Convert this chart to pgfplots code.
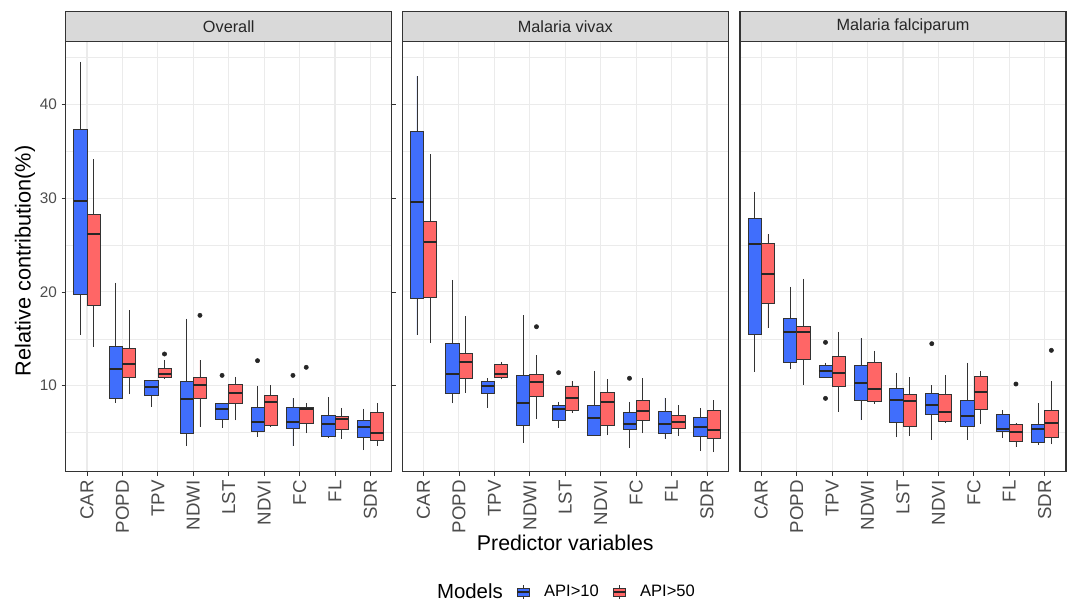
\documentclass[border=0pt]{standalone}
\usepackage{fontspec}
\setmainfont{Liberation Sans}
\usepackage{pgfplots}
\usepackage{pgfplotstable}
\pgfplotsset{compat=1.18}
\usepgfplotslibrary{statistics}

\definecolor{cblue}{RGB}{64,110,252}
\definecolor{cred}{RGB}{255,102,102}
\definecolor{gridc}{HTML}{EBEBEB}
\definecolor{stripc}{HTML}{D9D9D9}
\definecolor{framec}{HTML}{333333}

% overall, API>10
\pgfplotstableread{
var lw lq med uq uw
CAR 15.44 19.78 29.69 37.33 44.54
POPD 8.19 8.61 11.74 14.23 20.98
TPV 7.77 8.98 9.90 10.57 10.57
NDWI 3.57 4.88 8.62 10.46 17.14
LST 5.53 6.38 7.55 8.08 8.08
NDVI 4.55 5.12 6.12 7.65 9.96
FC 3.57 5.45 6.12 7.65 8.65
FL 4.38 4.56 5.88 6.87 8.76
SDR 3.14 4.53 5.60 6.34 7.55
}\ovA
% overall, API>50
\pgfplotstableread{
var lw lq med uq uw
CAR 14.16 18.53 26.20 28.22 34.13
POPD 9.08 10.86 12.32 13.95 18.07
TPV 10.71 10.86 11.21 11.89 12.74
NDWI 5.63 8.62 10.11 10.89 12.74
LST 6.30 8.15 9.22 10.15 10.96
NDVI 5.56 5.74 8.30 9.00 10.04
FC 4.91 5.98 7.51 7.69 8.12
FL 4.31 5.38 6.45 6.70 7.65
SDR 3.57 4.21 4.92 7.12 8.15
}\ovB
% vivax, API>10
\pgfplotstableread{
var lw lq med uq uw
CAR 15.41 19.31 29.59 37.09 43.00
POPD 8.12 9.19 11.25 14.48 21.27
TPV 7.65 9.19 9.97 10.43 10.79
NDWI 3.93 5.74 8.19 11.10 17.50
LST 5.53 6.34 7.51 7.90 8.30
NDVI 4.74 4.74 6.52 7.87 11.60
FC 3.35 5.34 5.95 7.12 8.30
FL 4.35 4.88 5.95 7.30 8.72
SDR 3.07 4.56 5.56 6.66 7.62
}\viA
% vivax, API>50
\pgfplotstableread{
var lw lq med uq uw
CAR 14.59 19.38 25.31 27.48 34.66
POPD 9.26 10.79 12.56 13.45 17.43
TPV 10.68 10.89 11.25 12.28 12.56
NDWI 6.41 8.87 10.39 11.21 13.27
LST 7.12 7.40 8.72 9.93 10.50
NDVI 4.70 5.74 8.26 9.29 10.71
FC 4.91 6.31 7.30 8.44 10.82
FL 4.67 5.45 6.09 6.87 7.94
SDR 2.89 4.38 5.27 7.40 8.47
}\viB
% falciparum, API>10
\pgfplotstableread{
var lw lq med uq uw
CAR 11.50 15.48 25.10 27.80 30.68
POPD 11.74 12.46 15.72 17.15 20.56
TPV 10.89 10.89 11.57 12.13 12.46
NDWI 6.34 8.40 10.25 12.17 15.05
LST 4.49 6.13 8.47 9.75 11.39
NDVI 4.24 6.98 7.94 9.19 10.07
FC 4.24 5.67 6.77 8.47 12.46
FL 4.46 5.10 5.41 6.94 7.37
SDR 3.68 3.93 5.34 5.91 8.12
}\faA
% falciparum, API>50
\pgfplotstableread{
var lw lq med uq uw
CAR 16.12 18.78 21.87 25.17 26.13
POPD 10.08 12.85 15.72 16.33 21.41
TPV 7.23 9.97 11.32 13.17 15.76
NDWI 8.05 8.33 9.61 12.53 13.73
LST 4.63 5.70 8.37 9.08 10.89
NDVI 5.98 6.20 7.19 9.12 11.10
FC 5.91 7.51 9.29 10.96 11.53
FL 3.42 4.10 5.10 5.91 6.05
SDR 3.75 4.49 5.98 7.40 10.46
}\faB

\pgfplotsset{
  panel/.style={
    scale only axis, width=244.5pt, height=322.5pt,
    xmin=0.4, xmax=9.6, ymin=0.83, ymax=46.67,
    xtick={1,...,9},
    xticklabels={CAR,POPD,TPV,NDWI,LST,NDVI,FC,FL,SDR},
    ytick={10,20,30,40}, minor ytick={5,15,25,35,45},
    grid=both,
    major grid style={draw=gridc, line width=0.8pt},
    minor grid style={draw=gridc, line width=0.4pt},
    minor tick length=0pt,
    tick align=outside, major tick length=3pt,
    tick style={draw=framec, line width=0.6pt},
    axis line style={draw=framec, line width=0.8pt},
    xticklabel style={rotate=90, anchor=east, font=\fontsize{14}{16}\selectfont, text=black!70},
    yticklabel style={font=\fontsize{11.5}{13}\selectfont, text=black!70},
    /pgf/number format/assume math mode=true,
  },
  inner/.style={yticklabels={}, ytick style={/pgfplots/major tick length=0pt}},
  bx/.style={forget plot, draw=framec, line width=0.5pt,
    boxplot/draw direction=y, boxplot/whisker extend=0,
    boxplot/every median/.style={draw=black!85, line width=1.4pt}},
  outl/.style={forget plot, only marks, mark=*, mark size=1.6pt, black!85},
}

% one box from row #2 of table #1, shifted by #3, filled with #4
\newcommand{\onebox}[4]{%
  \pgfplotstablegetelem{#2}{lw}\of#1\let\vlw\pgfplotsretval
  \pgfplotstablegetelem{#2}{lq}\of#1\let\vlq\pgfplotsretval
  \pgfplotstablegetelem{#2}{med}\of#1\let\vmed\pgfplotsretval
  \pgfplotstablegetelem{#2}{uq}\of#1\let\vuq\pgfplotsretval
  \pgfplotstablegetelem{#2}{uw}\of#1\let\vuw\pgfplotsretval
  \pgfmathsetmacro\vpos{#2+#3}%
  \edef\tmp{\noexpand\addplot[bx, fill=#4, boxplot prepared={draw position=\vpos,
    box extend=0.375, lower whisker=\vlw, lower quartile=\vlq, median=\vmed,
    upper quartile=\vuq, upper whisker=\vuw}] coordinates {};}%
  \tmp
}
\newcommand{\boxes}[2]{%
  \pgfplotsinvokeforeach{0,...,8}{\onebox{#1}{##1}{0.8125}{cblue}\onebox{#2}{##1}{1.1875}{cred}}%
}

\begin{document}
\begin{tikzpicture}
\path[use as bounding box] (0,0) rectangle (804pt,451.5pt);

\begin{axis}[panel, name=p1, at={(49.3pt,97.7pt)}, anchor=south west,
  ylabel={Relative contribution(\%)},
  ylabel style={font=\fontsize{16.3}{19}\selectfont, at={(axis description cs:-0.125,0.49)}, anchor=center}]
\boxes{\ovA}{\ovB}
\addplot[outl] coordinates {(4.8125,11.10) (5.8125,12.67) (6.8125,11.10)};
\addplot[outl] coordinates {(3.1875,13.38) (4.1875,17.50) (7.1875,11.96)};
\end{axis}

\begin{axis}[panel, inner, name=p2, at={(301.7pt,97.7pt)}, anchor=south west,
  xlabel={Predictor variables},
  xlabel style={font=\fontsize{16}{19}\selectfont, at={(axis description cs:0.5,-0.1657)}, anchor=center},
  legend columns=3,
  legend style={at={(axis description cs:0.4807,-0.2797)}, anchor=center, draw=none, fill=none,
    font=\fontsize{12.4}{14}\selectfont, nodes={inner xsep=0pt},
    /tikz/every odd column/.append style={column sep=10.5pt},
    /tikz/every even column/.append style={column sep=10.5pt}}]
\boxes{\viA}{\viB}
\addplot[outl] coordinates {(4.8125,11.39) (6.8125,10.79)};
\addplot[outl] coordinates {(4.1875,16.29)};
\addlegendimage{empty legend}
\addlegendentry{\fontsize{15.3}{18}\selectfont Models}
\addlegendimage{legend image code/.code={
  \draw[fill=cblue, draw=framec, line width=0.5pt] (0pt,-3pt) rectangle (9pt,3pt);
  \draw[framec, line width=0.5pt] (4.5pt,3pt)--(4.5pt,5pt) (4.5pt,-3pt)--(4.5pt,-5pt);
  \draw[black!85, line width=1pt] (0pt,0pt)--(9pt,0pt);}}
\addlegendentry{API>10}
\addlegendimage{legend image code/.code={
  \draw[fill=cred, draw=framec, line width=0.5pt] (0pt,-3pt) rectangle (9pt,3pt);
  \draw[framec, line width=0.5pt] (4.5pt,3pt)--(4.5pt,5pt) (4.5pt,-3pt)--(4.5pt,-5pt);
  \draw[black!85, line width=1pt] (0pt,0pt)--(9pt,0pt);}}
\addlegendentry{API>50}
\end{axis}

\begin{axis}[panel, inner, name=p3, at={(555pt,97.7pt)}, anchor=south west]
\boxes{\faA}{\faB}
\addplot[outl] coordinates {(2.8125,14.62) (2.8125,8.65) (5.8125,14.48)};
\addplot[outl] coordinates {(8.1875,10.18) (9.1875,13.77)};
\end{axis}

\foreach \p/\t in {p1/Overall, p2/Malaria vivax, p3/Malaria falciparum}{
  \draw[fill=stripc, draw=framec, line width=0.8pt] (\p.north west) rectangle ([yshift=23pt]\p.north east);
  \node[font=\fontsize{12.2}{14}\selectfont, text=black!85] at ([yshift=11.5pt]\p.north) {\t};
}
\end{tikzpicture}
\end{document}
